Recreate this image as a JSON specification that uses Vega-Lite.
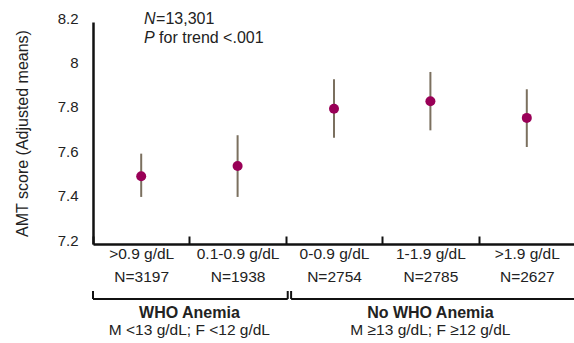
{
  "$schema": "https://vega.github.io/schema/vega-lite/v6.json",
  "padding": {"left": 14, "top": 10, "right": 0, "bottom": 0},
  "config": {
    "view": {"stroke": null},
    "font": "Liberation Sans",
    "text": {"font": "Liberation Sans"}
  },
  "spacing": 2,
  "resolve": {"scale": {"x": "independent", "y": "independent"}},
  "vconcat": [
    {
      "width": 482,
      "height": 222,
      "layer": [
        {
          "data": {"values": [
            {"cat": ">0.9 g/dL|N=3197", "mean": 7.505, "lo": 7.412, "hi": 7.607},
            {"cat": "0.1-0.9 g/dL|N=1938", "mean": 7.551, "lo": 7.412, "hi": 7.69},
            {"cat": "0-0.9 g/dL|N=2754", "mean": 7.809, "lo": 7.679, "hi": 7.942},
            {"cat": "1-1.9 g/dL|N=2785", "mean": 7.843, "lo": 7.712, "hi": 7.975},
            {"cat": ">1.9 g/dL|N=2627", "mean": 7.768, "lo": 7.637, "hi": 7.897}
          ]},
          "layer": [
            {
              "mark": {"type": "rule", "color": "#7b705f", "strokeWidth": 2},
              "encoding": {
                "x": {"field": "cat", "type": "nominal", "sort": null,
                  "scale": {"paddingInner": 0, "paddingOuter": 0},
                  "axis": {"title": null, "labelAngle": 0, "labelExpr": "split(datum.label, '|')",
                    "labelFontSize": 15.5, "labelColor": "#222", "labelLineHeight": 23, "labelPadding": 10,
                    "tickBand": "extent", "tickSize": -8, "tickWidth": 2, "tickColor": "#111",
                    "domainColor": "#111", "domainWidth": 2.5}},
                "y": {"field": "lo", "type": "quantitative",
                  "scale": {"domain": [7.2, 8.2], "nice": false, "zero": false},
                  "axis": {"title": "AMT score (Adjusted means)", "titleFontSize": 16, "titleFontWeight": "normal",
                    "titleColor": "#222", "titlePadding": 27,
                    "values": [7.2, 7.4, 7.6, 7.8, 8, 8.2], "format": "~g", "grid": false,
                    "ticks": false, "tickSize": 0, "labelPadding": 15, "labelFontSize": 15, "labelColor": "#222",
                    "labelOffset": -4,
                    "domainColor": "#111", "domainWidth": 2.5}},
                "y2": {"field": "hi"}
              }
            },
            {
              "mark": {"type": "point", "filled": true, "size": 100, "color": "#990057", "opacity": 1},
              "encoding": {
                "x": {"field": "cat", "type": "nominal", "sort": null},
                "y": {"field": "mean", "type": "quantitative"}
              }
            }
          ]
        },
        {
          "data": {"values": [
            {"cat": ">0.9 g/dL|N=3197", "line": 1, "t1": "N", "t2": "=13,301", "y": 8.215},
            {"cat": ">0.9 g/dL|N=3197", "line": 2, "t1": "P", "t2": "for trend <.001", "y": 8.13}
          ]},
          "layer": [
            {
              "mark": {"type": "text", "fontStyle": "italic", "fontSize": 16, "align": "left", "baseline": "middle", "color": "#222"},
              "encoding": {
                "x": {"field": "cat", "type": "nominal", "sort": null, "bandPosition": 0.53},
                "y": {"field": "y", "type": "quantitative"},
                "text": {"field": "t1"}
              }
            },
            {
              "transform": [{"filter": "datum.line == 1"}],
              "mark": {"type": "text", "fontSize": 16, "align": "left", "baseline": "middle", "color": "#222", "dx": 12},
              "encoding": {
                "x": {"field": "cat", "type": "nominal", "sort": null, "bandPosition": 0.53},
                "y": {"field": "y", "type": "quantitative"},
                "text": {"field": "t2"}
              }
            },
            {
              "transform": [{"filter": "datum.line == 2"}],
              "mark": {"type": "text", "fontSize": 16, "align": "left", "baseline": "middle", "color": "#222", "dx": 15},
              "encoding": {
                "x": {"field": "cat", "type": "nominal", "sort": null, "bandPosition": 0.53},
                "y": {"field": "y", "type": "quantitative"},
                "text": {"field": "t2"}
              }
            }
          ]
        }
      ]
    },
    {
      "width": 482,
      "height": 50,
      "data": {"values": [
        {"group": "WHO Anemia", "sub": "M <13 g/dL; F <12 g/dL", "start": 0, "end": 2.02, "mid": 1, "closed": true},
        {"group": "No WHO Anemia", "sub": "M ≥13 g/dL; F ≥12 g/dL", "start": 2.055, "end": 5, "mid": 3.5, "closed": false}
      ]},
      "encoding": {
        "x": {"field": "start", "type": "quantitative", "scale": {"domain": [0, 5], "nice": false, "zero": false}, "axis": null}
      },
      "layer": [
        {
          "mark": {"type": "rule", "color": "#111", "strokeWidth": 2},
          "encoding": {
            "x2": {"field": "end"},
            "y": {"datum": 0.76, "type": "quantitative", "scale": {"domain": [0, 1], "nice": false}, "axis": null}
          }
        },
        {
          "mark": {"type": "rule", "color": "#111", "strokeWidth": 2},
          "encoding": {
            "y": {"datum": 0.76, "type": "quantitative"},
            "y2": {"datum": 0.92}
          }
        },
        {
          "transform": [{"filter": "datum.closed"}],
          "mark": {"type": "rule", "color": "#111", "strokeWidth": 2},
          "encoding": {
            "x": {"field": "end", "type": "quantitative"},
            "y": {"datum": 0.76, "type": "quantitative"},
            "y2": {"datum": 0.92}
          }
        },
        {
          "mark": {"type": "text", "fontSize": 16, "fontWeight": "bold", "color": "#222", "baseline": "middle"},
          "encoding": {
            "x": {"field": "mid", "type": "quantitative"},
            "y": {"datum": 0.49, "type": "quantitative"},
            "text": {"field": "group"}
          }
        },
        {
          "mark": {"type": "text", "fontSize": 15.5, "color": "#222", "baseline": "middle"},
          "encoding": {
            "x": {"field": "mid", "type": "quantitative"},
            "y": {"datum": 0.14, "type": "quantitative"},
            "text": {"field": "sub"}
          }
        }
      ]
    }
  ]
}
